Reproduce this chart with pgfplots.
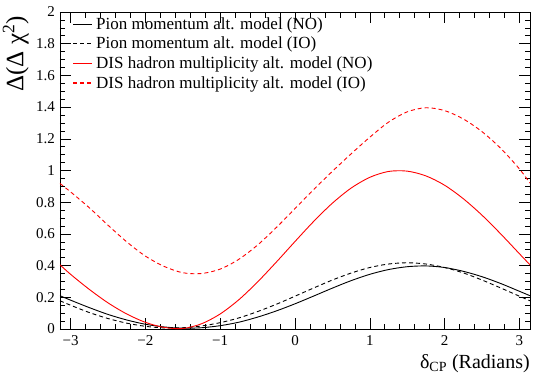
\documentclass[border=0pt]{standalone}
\usepackage{pgfplots}
\pgfplotsset{compat=1.18}
\usepackage{fontspec}
\setmainfont{Liberation Serif}

\pgfplotstableread{
x y
-3.1416 0.210
-3.0 0.182
-2.75 0.135
-2.5 0.092
-2.25 0.057
-2.0 0.030
-1.75 0.013
-1.5 0.005
-1.25 0.008
-1.0 0.021
-0.75 0.043
-0.5 0.075
-0.25 0.114
0.0 0.159
0.25 0.208
0.5 0.258
0.75 0.305
1.0 0.345
1.25 0.375
1.5 0.393
1.75 0.398
2.0 0.388
2.25 0.364
2.5 0.330
2.75 0.287
3.0 0.238
3.1416 0.210
}\pionNO

\pgfplotstableread{
x y
-3.1416 0.178
-3.0 0.150
-2.75 0.104
-2.5 0.066
-2.25 0.037
-2.0 0.017
-1.75 0.007
-1.5 0.008
-1.25 0.019
-1.0 0.040
-0.75 0.070
-0.5 0.110
-0.25 0.156
0.0 0.207
0.25 0.259
0.5 0.309
0.75 0.353
1.0 0.388
1.25 0.410
1.5 0.418
1.75 0.410
2.0 0.388
2.25 0.354
2.5 0.309
2.75 0.259
3.0 0.207
3.1416 0.178
}\pionIO

\pgfplotstableread{
x y
-3.1416 0.405
-3.0 0.345
-2.75 0.250
-2.5 0.165
-2.25 0.095
-2.0 0.042
-1.75 0.010
-1.5 0.003
-1.25 0.033
-1.0 0.095
-0.75 0.185
-0.5 0.297
-0.25 0.422
0.0 0.552
0.25 0.679
0.5 0.794
0.75 0.889
1.0 0.957
1.25 0.994
1.5 0.996
1.75 0.966
2.0 0.907
2.25 0.822
2.5 0.718
2.75 0.600
3.0 0.475
3.1416 0.405
}\disNO

\pgfplotstableread{
x y
-3.1416 0.918
-3.0 0.865
-2.75 0.765
-2.5 0.655
-2.25 0.550
-2.0 0.460
-1.75 0.395
-1.5 0.355
-1.25 0.350
-1.0 0.378
-0.75 0.440
-0.5 0.530
-0.25 0.640
0.0 0.760
0.25 0.880
0.5 0.995
0.75 1.105
1.0 1.210
1.25 1.305
1.5 1.370
1.75 1.396
2.0 1.378
2.25 1.325
2.5 1.245
2.75 1.140
3.0 1.010
3.1416 0.920
}\disIO

\begin{document}
\begin{tikzpicture}
\begin{axis}[
  scale only axis, width=470pt, height=317pt,
  xmin=-3.14159, xmax=3.14159, ymin=0, ymax=2,
  xtick={-3,-2,-1,0,1,2,3},
  xticklabels={−3,−2,−1,0,1,2,3},
  ytick={0,0.2,0.4,0.6,0.8,1,1.2,1.4,1.6,1.8,2},
  yticklabels={0,0.2,0.4,0.6,0.8,1,1.2,1.4,1.6,1.8,2},
  minor x tick num=4, minor y tick num=3,
  major tick length=11pt, minor tick length=5.5pt,
  tick style={black, line width=0.6pt},
  axis line style={line width=0.8pt},
  tick align=inside,
  ticklabel style={font=\fontsize{15}{18}\selectfont},
  xticklabel style={inner sep=0pt, anchor=north, yshift=-6pt},
  yticklabel style={inner sep=0pt, anchor=east, xshift=-5pt},
]
\addplot[black, line width=0.9pt, smooth] table {\pionNO};
\addplot[black, line width=0.9pt, smooth, dash pattern=on 4pt off 3pt] table {\pionIO};
\addplot[red, line width=0.9pt, smooth] table {\disNO};
\addplot[red, line width=0.9pt, smooth, dash pattern=on 4pt off 3pt] table {\disIO};
% legend keys
\draw[draw=black, line width=1.0pt] (axis description cs:0.0277,0.9606) -- (axis description cs:0.0681,0.9606);
\draw[draw=black, line width=1.0pt, dash pattern=on 4pt off 3pt] (axis description cs:0.0277,0.8991) -- (axis description cs:0.0681,0.8991);
\fill[red] (axis description cs:0.0277,0.8350) rectangle (axis description cs:0.0681,0.8400);
\draw[draw=red, line width=1.1pt, dash pattern=on 4pt off 3pt] (axis description cs:0.0277,0.7760) -- (axis description cs:0.0681,0.7760);
\end{axis}
\begin{scope}[font=\fontsize{17}{19}\selectfont]
\node[anchor=base west, inner sep=0pt] at (36pt,299.5pt) {Pion momentum alt. model (NO)};
\node[anchor=base west, inner sep=0pt] at (36pt,280pt) {Pion momentum alt. model (IO)};
\node[anchor=base west, inner sep=0pt] at (36pt,260.5pt) {DIS hadron multiplicity alt. model (NO)};
\node[anchor=base west, inner sep=0pt] at (36pt,241pt) {DIS hadron multiplicity alt. model (IO)};
\end{scope}
\node[rotate=90, anchor=south east, inner sep=0pt, font=\fontsize{25}{30}\selectfont] at (-31pt,313pt) {Δ(Δ χ\textsuperscript{2})};
\node[anchor=base east, inner sep=0pt, font=\fontsize{20}{24}\selectfont] at (470pt,-39pt) {δ\textsubscript{CP} (Radians)};
\pgfresetboundingbox
\path (-60pt,-44pt) rectangle (473pt,329pt);
\end{tikzpicture}
\end{document}
